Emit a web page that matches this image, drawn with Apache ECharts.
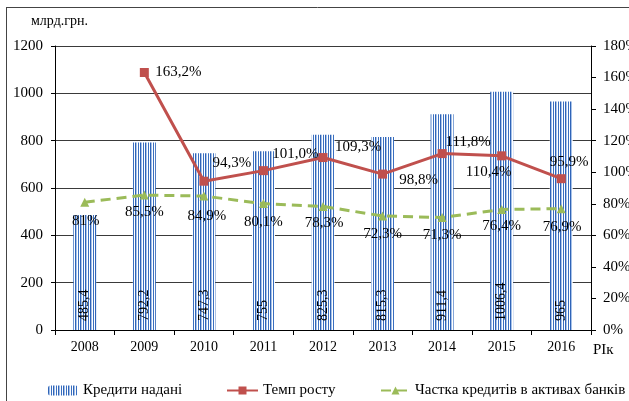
<!DOCTYPE html>
<html>
<head>
<meta charset="utf-8">
<script src="https://cdn.jsdelivr.net/npm/echarts@6/dist/echarts.min.js"></script>
<style>html,body{margin:0;padding:0;background:#fff}#c{width:629px;height:401px}</style>
</head>
<body>
<div id="c"></div>
<script>
var years = ['2008','2009','2010','2011','2012','2013','2014','2015','2016'];
var credits = [485.4, 792.2, 747.3, 755, 825.3, 815.3, 911.4, 1006.4, 965];
var growth = [null, 163.2, 94.3, 101.0, 109.3, 98.8, 111.8, 110.4, 95.9];
var share = [81, 85.5, 84.9, 80.1, 78.3, 72.3, 71.3, 76.4, 76.9];
var leftTicks = {min: 0, max: 1200, interval: 200};
var rightTicks = {min: 0, max: 180, interval: 20};

// label layout offsets (pixels), not data
var growthOffsets = [[0,0],[34,0],[28,-18],[32,-17],[35,-10],[36,6],[26,-12],[-13,16],[8,-17]];
var shareOffsets = [[1,19],[0,17],[3,20],[0,18],[1,17],[0,18],[0,18],[0,17],[1,18]];

var FONT = '"Liberation Serif","Times New Roman",serif';

var cv = document.createElement('canvas');
cv.width = 5; cv.height = 4;
var cx = cv.getContext('2d');
var cols = ['#2f64b8','#a9c3e8','#ffffff','#3a6fc0','#ffffff'];
for (var i = 0; i < 5; i++) { cx.fillStyle = cols[i]; cx.fillRect(i, 0, 1, 4); }
var stripe = {image: cv, repeat: 'repeat'};

var chart = echarts.init(document.getElementById('c'), null, {renderer: 'canvas'});
var legendText = {fontFamily: FONT, fontSize: 15, color: '#000'};
chart.setOption({
  animation: false,
  backgroundColor: '#fff',
  textStyle: {fontFamily: FONT, color: '#000'},
  grid: {left: 55, right: 38, top: 46, bottom: 71, outerBoundsMode: 'none', containLabel: false},
  graphic: [
    {type: 'line', shape: {x1: 6, y1: 7.5, x2: 629, y2: 7.5}, style: {stroke: '#444', lineWidth: 1}},
    {type: 'line', shape: {x1: 6.5, y1: 7, x2: 6.5, y2: 401}, style: {stroke: '#444', lineWidth: 1}},
    {type: 'text', left: 31, top: 14, style: {text: 'млрд.грн.', font: '14px ' + FONT, fill: '#000'}},
    {type: 'text', left: 593, top: 343, style: {text: 'РІк', font: '15px ' + FONT, fill: '#000'}}
  ],
  legend: [
    {data: ['Кредити надані'], left: 48, top: 383, padding: 0, itemWidth: 30, itemHeight: 10, textStyle: legendText},
    {data: ['Темп росту'], left: 226, top: 383, padding: 0, itemWidth: 31, itemHeight: 10, textStyle: legendText},
    {data: ['Частка кредитів в активах банків'], left: 380, top: 383, padding: 0, itemWidth: 29, itemHeight: 10, textStyle: legendText}
  ],
  xAxis: {
    type: 'category', data: years, boundaryGap: true,
    axisLine: {lineStyle: {color: '#000', width: 1}},
    axisTick: {show: true, length: 5, alignWithLabel: false, lineStyle: {color: '#000'}},
    axisLabel: {fontFamily: FONT, fontSize: 14, color: '#000', margin: 10}
  },
  yAxis: [
    {type: 'value', min: leftTicks.min, max: leftTicks.max, interval: leftTicks.interval,
     axisLine: {show: true, lineStyle: {color: '#000'}},
     axisTick: {show: true, length: 4, lineStyle: {color: '#000'}},
     axisLabel: {fontFamily: FONT, fontSize: 15, color: '#000', margin: 12,
       formatter: function (v) { return String(v); }},
     splitLine: {show: true, lineStyle: {color: '#3a3a3a', width: 1}}},
    {type: 'value', min: rightTicks.min, max: rightTicks.max, interval: rightTicks.interval, position: 'right',
     axisLine: {show: true, lineStyle: {color: '#000'}},
     axisTick: {show: true, length: 5, lineStyle: {color: '#000'}},
     axisLabel: {fontFamily: FONT, fontSize: 15, color: '#000', margin: 12, formatter: '{value}%'},
     splitLine: {show: false}}
  ],
  series: [
    {name: 'Кредити надані', type: 'bar', yAxisIndex: 0, barWidth: 23, data: credits,
     itemStyle: {color: stripe},
     label: {show: true, position: 'insideBottom', rotate: 90, align: 'left', verticalAlign: 'middle',
       distance: 9, fontFamily: FONT, fontSize: 14, color: '#000',
       formatter: function (p) { return String(p.value).replace('.', ','); }}},
    {name: 'Темп росту', type: 'line', yAxisIndex: 1, z: 5,
     data: growth.map(function (v, i) {
       return {value: v, label: {offset: growthOffsets[i]}};
     }),
     lineStyle: {color: '#c0504d', width: 3}, itemStyle: {color: '#c0504d'},
     symbol: 'rect', symbolSize: 9, showSymbol: true, connectNulls: false,
     label: {show: true, position: 'inside', align: 'center', verticalAlign: 'middle',
       fontFamily: FONT, fontSize: 15, color: '#000',
       formatter: function (p) { return p.value == null ? '' : p.value.toFixed(1).replace('.', ',') + '%'; }}},
    {name: 'Частка кредитів в активах банків', type: 'line', yAxisIndex: 1, z: 4,
     data: share.map(function (v, i) {
       return {value: v, label: {offset: shareOffsets[i]}};
     }),
     lineStyle: {color: '#9bbb59', width: 3, type: [10, 6]}, itemStyle: {color: '#9bbb59'},
     symbol: 'triangle', symbolSize: 9, showSymbol: true,
     label: {show: true, position: 'inside', align: 'center', verticalAlign: 'middle',
       fontFamily: FONT, fontSize: 15, color: '#000',
       formatter: function (p) { return String(p.value).replace('.', ',') + '%'; }}}
  ]
});
</script>
</body>
</html>
